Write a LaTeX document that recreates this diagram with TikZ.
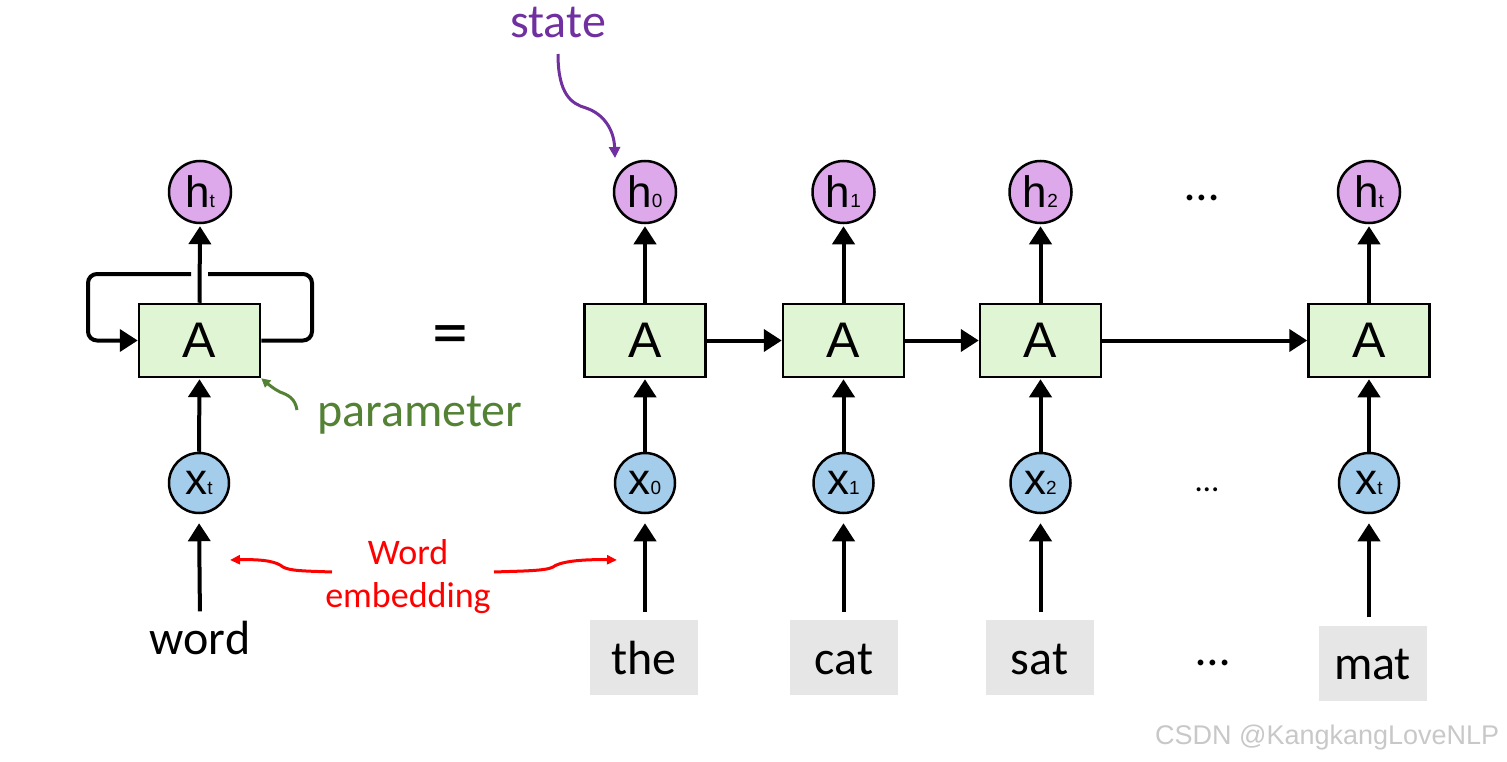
\documentclass[tikz,border=0pt]{standalone}
\usepackage{fontspec}
\setmainfont{Carlito}
\newfontfamily\arialf{Liberation Sans}
\usetikzlibrary{arrows.meta,calc}
\definecolor{boxgreen}{HTML}{E0F5D3}
\definecolor{hpurple}{HTML}{DDA9EA}
\definecolor{xblue}{HTML}{A4CDEC}
\definecolor{wgray}{HTML}{E6E6E6}
\definecolor{statepurple}{HTML}{7030A0}
\definecolor{paramgreen}{HTML}{548235}
\definecolor{wmgray}{HTML}{C8C8C8}
\newcommand\subsc[1]{{\fontsize{19}{19}\selectfont #1}}
\begin{document}
\begin{tikzpicture}[x=1pt,y=-1pt,
  cellbox/.style={draw=black, line width=2.5pt, fill=boxgreen, minimum width=121pt, minimum height=73pt, inner sep=0pt, font=\arialf\fontsize{50}{50}\selectfont},
  hnode/.style={circle, draw=black, line width=2.5pt, fill=hpurple, minimum size=62pt, inner sep=0pt, font=\arialf\fontsize{44}{44}\selectfont},
  xnode/.style={circle, draw=black, line width=2.5pt, fill=xblue, minimum size=60pt, inner sep=0pt, font=\arialf\fontsize{44}{44}\selectfont},
  wordbox/.style={fill=wgray, minimum width=108pt, minimum height=75pt, inner sep=0pt, text height=33pt, text depth=0pt, font=\fontsize{48}{48}\selectfont},
  arr/.style={line width=4pt, -{Triangle[length=18pt,width=22pt]}},
  wire/.style={line width=4pt, rounded corners=9pt},
  dotsf/.style={inner sep=0pt, font=\fontsize{48}{48}\selectfont},
]
\useasboundingbox (0,0) rectangle (1507,762);

% ---------- left folded RNN ----------
\node[hnode] (hL) at (200,192) {h\subsc{t}};
\node[cellbox] (AL) at (199.5,340.5) {A};
\node[xnode] (xL) at (199,483) {x\subsc{t}};
\node[anchor=base, inner sep=0pt, font=\fontsize{48}{48}\selectfont] (word) at (200,654) {word};

\draw[wire] (AL.east) -- (312,340.5) -- (312,274) -- (208,274);
\draw[wire, -{Triangle[length=18pt,width=22pt]}] (191,274) -- (88,274) -- (88,340.5) -- (AL.west);
\draw[arr, shorten >=2pt] (AL.north) -- (hL.south);
\draw[arr, shorten >=1pt] (xL.north) -- (AL.south);
\draw[arr, shorten <=9pt, shorten >=9pt] (word.north) -- (xL.south);

% parameter
\node[anchor=base west, inner sep=0pt, text=paramgreen, font=\fontsize{48}{48}\selectfont] (param) at (317,426) {parameter};
\coordinate (pS) at (297,410);
\draw[paramgreen, line width=3pt, -{Triangle[length=9pt,width=9pt]}]
  (pS) .. controls (295,398) and (288,395) .. (280,392) .. controls (274,389) and (268,384) .. (AL.south east);

% equals
\node[inner sep=0pt, font=\fontsize{72}{72}\selectfont] (eq) at (450,341.5) {=};

% ---------- unrolled RNN ----------
\foreach \n/\xx/\s in {0/645/0, 1/843.5/1, 2/1040.5/2, 3/1369/t}{
  \node[hnode] (h\n) at (\xx,192) {h\subsc{\s}};
  \node[cellbox] (A\n) at (\xx,340.5) {A};
  \node[xnode] (x\n) at (\xx,483) {x\subsc{\s}};
  \draw[arr, shorten >=2pt] (A\n.north) -- (h\n.south);
  \draw[arr, shorten >=1pt] (x\n.north) -- (A\n.south);
}
\draw[arr] (A0.east) -- (A1.west);
\draw[arr] (A1.east) -- (A2.west);
\draw[arr] (A2.east) -- (A3.west);

\node[wordbox] (w0) at (644,657.5) {the};
\node[wordbox] (w1) at (844,657.5) {cat};
\node[wordbox] (w2) at (1039.5,657.5) {sat};
\node[wordbox] (w3) at (1372.5,663) {mat};
\foreach \n in {0,1,2,3}{
  \draw[arr, shorten <=8pt, shorten >=9pt] (x\n |- w\n.north) -- (x\n.south);
}

% dots
\node[dotsf] (d1) at (1202,198) {…};
\node[inner sep=0pt, font=\fontsize{33}{33}\selectfont] (d2) at (1207,490) {…};
\node[dotsf] (d3) at (1213,663) {…};

% state
\node[anchor=base, inner sep=0pt, text=statepurple, font=\fontsize{48}{48}\selectfont] (state) at (558,38) {state};
\coordinate (sS) at (558,54);
\coordinate (sE) at (615,158);
\draw[statepurple, line width=3pt, -{Triangle[length=11pt,width=11pt]}]
  (sS) .. controls (558,95) and (572,104) .. (586,108) .. controls (604,114) and (614,130) .. (sE);

% word embedding
\node[align=center, inner sep=0pt, text=red, font=\fontsize{36}{43}\selectfont] (emb) at (408,577) {Word\\embedding};
\coordinate (eL) at (230,560);
\coordinate (eR) at (617,560);
\draw[red, line width=3pt, -{Triangle[length=10pt,width=9pt]}]
  (332,572) .. controls (305,571) and (290,571) .. (283,567) .. controls (277,562) and (265,559) .. (eL);
\draw[red, line width=3pt, -{Triangle[length=10pt,width=9pt]}]
  (494,572) .. controls (521,571) and (546,571) .. (553,567) .. controls (559,562) and (580,559) .. (eR);

% watermark
\node[anchor=base west, inner sep=0pt, text=wmgray, font=\arialf\fontsize{27}{27}\selectfont] (wm) at (1155,744) {CSDN @KangkangLoveNLP};
\end{tikzpicture}
\end{document}
